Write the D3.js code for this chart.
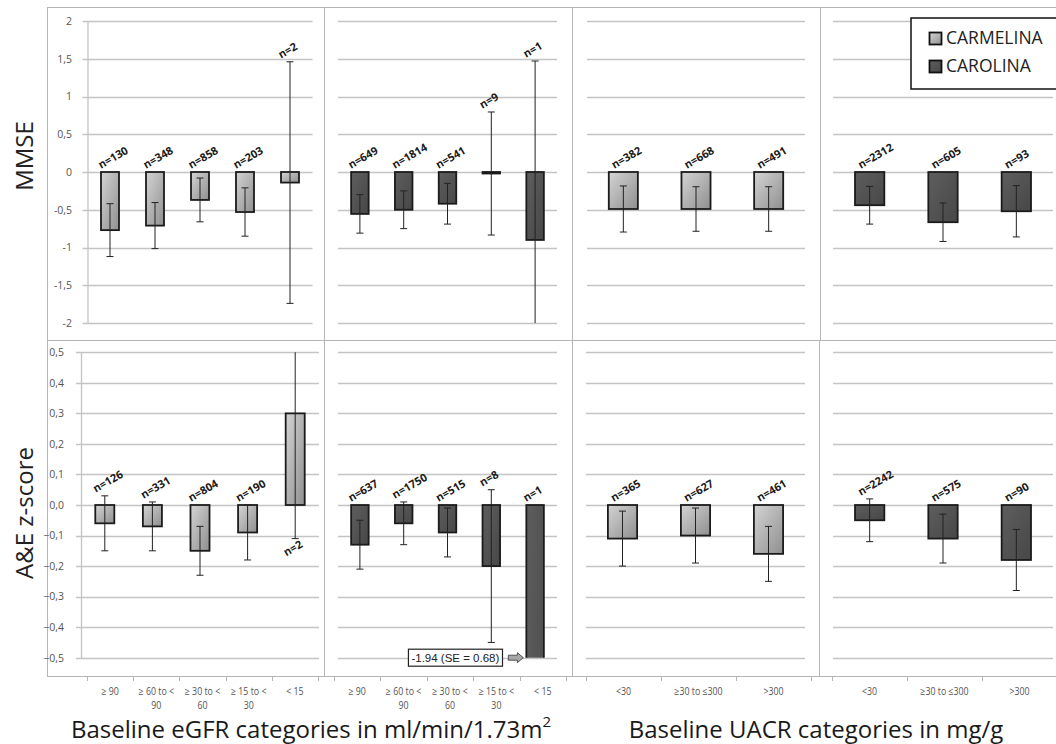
<!DOCTYPE html>
<html><head><meta charset="utf-8">
<script src="https://cdn.jsdelivr.net/npm/d3@7"></script>
<style>body{margin:0;background:#fff} svg{display:block;font-family:"Open Sans",sans-serif}</style>
</head><body><svg id="c" width="1056" height="744"></svg>
<script>
// ---------- DATA ----------
const egfrCategories = [["≥ 90"],["≥ 60 to <","90"],["≥ 30 to <","60"],["≥ 15 to <","30"],["< 15"]];
const uacrCategories = [["<30"],["≥30 to ≤300"],[">300"]];
const mmseTicks = [2,1.5,1,0.5,0,-0.5,-1,-1.5,-2];
const aeTicks = [0.5,0.4,0.3,0.2,0.1,0,-0.1,-0.2,-0.3,-0.4,-0.5];
const seriesNames = ["CARMELINA","CAROLINA"];

const mmseCarmelinaEgfrMean = [-0.77,-0.71,-0.37,-0.53,-0.14];
const mmseCarmelinaEgfrSE   = [0.35,0.305,0.29,0.32,1.60];
const mmseCarmelinaEgfrN    = [130,348,858,203,2];
const mmseCarolinaEgfrMean  = [-0.555,-0.50,-0.42,-0.02,-0.90];
const mmseCarolinaEgfrSE    = [0.255,0.25,0.27,0.815,2.37];
const mmseCarolinaEgfrN     = [649,1814,541,9,1];
const mmseCarmelinaUacrMean = [-0.49,-0.49,-0.49];
const mmseCarmelinaUacrSE   = [0.305,0.295,0.295];
const mmseCarmelinaUacrN    = [382,668,491];
const mmseCarolinaUacrMean  = [-0.44,-0.665,-0.52];
const mmseCarolinaUacrSE    = [0.25,0.255,0.34];
const mmseCarolinaUacrN     = [2312,605,93];

const aeCarmelinaEgfrMean = [-0.06,-0.07,-0.15,-0.09,0.30];
const aeCarmelinaEgfrSE   = [0.09,0.08,0.08,0.09,0.41];
const aeCarmelinaEgfrN    = [126,331,804,190,2];
const aeCarolinaEgfrMean  = [-0.13,-0.06,-0.09,-0.20,-1.94];
const aeCarolinaEgfrSE    = [0.08,0.07,0.08,0.25,0.68];
const aeCarolinaEgfrN     = [637,1750,515,8,1];
const aeCarmelinaUacrMean = [-0.11,-0.10,-0.16];
const aeCarmelinaUacrSE   = [0.09,0.09,0.09];
const aeCarmelinaUacrN    = [365,627,461];
const aeCarolinaUacrMean  = [-0.05,-0.11,-0.18];
const aeCarolinaUacrSE    = [0.07,0.08,0.10];
const aeCarolinaUacrN     = [2242,575,90];

// ---------- LAYOUT ----------
const svg = d3.select("#c");
const defs = svg.append("defs");
function grad(id, c0, c1){
  const g = defs.append("linearGradient").attr("id", id).attr("x1",0).attr("y1",0).attr("x2",1).attr("y2",1);
  g.append("stop").attr("offset","0%").attr("stop-color",c0);
  g.append("stop").attr("offset","100%").attr("stop-color",c1);
}
grad("gLight", "#d4d4d4", "#8f8f8f");
grad("gDark", "#5e5e5e", "#474747");
const fills = ["url(#gLight)","url(#gDark)"];

const borderColor = "#b5b5b5", gridColor = "#c4c4c4";

const rows = [
  {ticks: mmseTicks, yRange: [323, 21], labelX: 72, title: "MMSE", titleY: 156,
   fmt: d => String(d).replace(".", ",")},
  {ticks: aeTicks, yRange: [657.7, 352.3], labelX: 64, title: "A&E z-score", titleY: 513,
   fmt: d => d3.format(".1f")(d).replace(".", ",")}
];

const panels = [
  {row:0, series:0, cats: egfrCategories, x:[87.5,312.5], mean: mmseCarmelinaEgfrMean, se: mmseCarmelinaEgfrSE, n: mmseCarmelinaEgfrN, axis:true},
  {row:0, series:1, cats: egfrCategories, x:[338,557], mean: mmseCarolinaEgfrMean, se: mmseCarolinaEgfrSE, n: mmseCarolinaEgfrN},
  {row:0, series:0, cats: uacrCategories, x:[587,805], mean: mmseCarmelinaUacrMean, se: mmseCarmelinaUacrSE, n: mmseCarmelinaUacrN},
  {row:0, series:1, cats: uacrCategories, x:[833,1053], mean: mmseCarolinaUacrMean, se: mmseCarolinaUacrSE, n: mmseCarolinaUacrN},
  {row:1, series:0, cats: egfrCategories, x:[81,319], mean: aeCarmelinaEgfrMean, se: aeCarmelinaEgfrSE, n: aeCarmelinaEgfrN, axis:true},
  {row:1, series:1, cats: egfrCategories, x:[338,557], mean: aeCarolinaEgfrMean, se: aeCarolinaEgfrSE, n: aeCarolinaEgfrN},
  {row:1, series:0, cats: uacrCategories, x:[586,805], mean: aeCarmelinaUacrMean, se: aeCarmelinaUacrSE, n: aeCarmelinaUacrN},
  {row:1, series:1, cats: uacrCategories, x:[833,1053], mean: aeCarolinaUacrMean, se: aeCarolinaUacrSE, n: aeCarolinaUacrN}
];

// ---------- FRAME ----------
const frame = svg.append("g").attr("stroke", borderColor).attr("stroke-width", 1).attr("shape-rendering","crispEdges");
[[47,7,1056,7],[47,340,1056,340],[47,676,1056,676],[47,7,47,676],
 [324,7,324,676],[572,7,572,676],[820,7,820,340],[819,340,819,676]].forEach(l=>{
  frame.append("line").attr("x1",l[0]).attr("y1",l[1]).attr("x2",l[2]).attr("y2",l[3]);
});

// ---------- PANELS ----------
panels.forEach((p, pi) => {
  const r = rows[p.row];
  const y = d3.scaleLinear().domain([d3.min(r.ticks), d3.max(r.ticks)]).range(r.yRange);
  const x = d3.scaleBand().domain(p.cats.map((c,i)=>i)).range(p.x).padding(0);
  const g = svg.append("g");

  g.append("g").selectAll("line").data(r.ticks).join("line")
    .attr("x1", p.axis ? p.x[0]-5 : p.x[0]).attr("x2", p.x[1])
    .attr("y1", d=>Math.round(y(d))+0.5).attr("y2", d=>Math.round(y(d))+0.5)
    .attr("stroke", gridColor).attr("stroke-width", 1.3);

  if (p.axis) {
    const ax = d3.axisLeft(y).tickValues(r.ticks).tickFormat(r.fmt).tickSize(0).tickPadding(p.x[0]-r.labelX);
    const ag = g.append("g").attr("transform", `translate(${p.x[0]},0)`).call(ax);
    ag.select(".domain").attr("stroke", gridColor).attr("stroke-width",1.3);
    ag.selectAll("text").attr("font-size", 10.5).attr("fill", "#555").attr("font-family","'Open Sans',sans-serif");
    svg.append("text").attr("transform", `translate(33,${r.titleY}) rotate(-90)`)
      .attr("text-anchor","middle").attr("font-size", 24).attr("fill","#222").text(r.title);
  }

  const clipId = "clip"+pi;
  defs.append("clipPath").attr("id", clipId).append("rect")
    .attr("x", p.x[0]).attr("width", p.x[1]-p.x[0])
    .attr("y", r.yRange[1]).attr("height", r.yRange[0]-r.yRange[1]);
  const cg = g.append("g").attr("clip-path", `url(#${clipId})`);

  const bw = x.bandwidth()*0.4;
  const data = p.mean.map((m,i)=>({i, m, se:p.se[i], n:p.n[i]}));
  const [dmin, dmax] = y.domain();

  cg.selectAll("rect.bar").data(data).join("rect").attr("class","bar")
    .attr("x", d=>x(d.i)+x.bandwidth()/2-bw/2).attr("width", bw)
    .attr("y", d=>y(Math.max(0,d.m))).attr("height", d=>Math.abs(y(d.m)-y(0)))
    .attr("fill", fills[p.series]).attr("stroke","#1b1b1b").attr("stroke-width",1.8);

  const eg = cg.append("g").attr("stroke","#222").attr("stroke-width",1);
  data.forEach(d=>{
    const cx = x(d.i)+x.bandwidth()/2;
    const y1 = y(d.m+d.se), y2 = y(d.m-d.se);
    eg.append("line").attr("x1",cx).attr("x2",cx).attr("y1",y1).attr("y2",y2);
    eg.append("line").attr("x1",cx-3.5).attr("x2",cx+3.5).attr("y1",y1).attr("y2",y1);
    eg.append("line").attr("x1",cx-3.5).attr("x2",cx+3.5).attr("y1",y2).attr("y2",y2);
  });

  data.forEach(d=>{
    const cx = x(d.i)+x.bandwidth()/2;
    const up = d.m + d.se;
    let ly;
    if (up > dmax) ly = y(d.m - d.se) + 18;
    else ly = y(Math.max(0, up)) - 3;
    g.append("text").attr("transform", `translate(${cx-9},${ly}) rotate(-30)`)
      .attr("font-size", 11).attr("font-weight", "bold").attr("fill","#1a1a1a")
      .text("n=" + d.n);
  });

  data.filter(d=>d.m < dmin).forEach(d=>{
    const left = x(d.i)+x.bandwidth()/2-bw/2;
    const ty = y(dmin);
    const tx = left - 3;
    g.append("polygon").attr("points", [[tx,ty],[tx-6,ty-5],[tx-6,ty-2.5],[tx-15,ty-2.5],[tx-15,ty+2.5],[tx-6,ty+2.5],[tx-6,ty+5]].map(q=>q.join(",")).join(" "))
      .attr("fill","#a8a8a8").attr("stroke","#333").attr("stroke-width",0.8);
    const t = g.append("text").attr("x", left-27).attr("y", ty+4).attr("text-anchor","end")
      .attr("font-family","'Liberation Sans',Arial,sans-serif").attr("font-size",11.5).attr("fill","#222")
      .text(`${d.m.toFixed(2)} (SE = ${d.se.toFixed(2)})`);
    const bb = t.node().getBBox();
    g.insert("rect","text").attr("x", bb.x-3).attr("y", ty-8.5).attr("width", bb.width+6).attr("height",17)
      .attr("fill","#fff").attr("stroke","#222").attr("stroke-width",1.2);
    t.raise();
  });
});

// ---------- CATEGORY AXIS STRIP ----------
const stripAxes = [
  {cats: egfrCategories, x:[87,318]},
  {cats: egfrCategories, x:[334,566]},
  {cats: uacrCategories, x:[586,811]},
  {cats: uacrCategories, x:[832,1057]}
];
stripAxes.forEach(a=>{
  const x = d3.scaleBand().domain(a.cats.map((c,i)=>i)).range(a.x);
  const g = svg.append("g");
  const bounds = a.cats.map((c,i)=>x(i)).concat([a.x[1]]);
  g.selectAll("line").data(bounds).join("line")
    .attr("x1",d=>Math.round(d)+0.5).attr("x2",d=>Math.round(d)+0.5).attr("y1",676).attr("y2",681)
    .attr("stroke", borderColor);
  a.cats.forEach((lines,i)=>{
    lines.forEach((ln,k)=>{
      g.append("text").attr("transform", `translate(${x(i)+x.bandwidth()/2},${695 + k*14}) scale(0.84,1)`)
        .attr("text-anchor","middle").attr("font-size",10.5).attr("fill","#555").text(ln);
    });
  });
});

// x titles
const t1 = svg.append("text").attr("x", 311).attr("y", 738).attr("text-anchor","middle")
  .attr("font-size", 24).attr("fill","#1a1a1a");
t1.append("tspan").text("Baseline eGFR categories in ml/min/1.73m");
t1.append("tspan").attr("font-size", 15).attr("dy", -11).text("2");
svg.append("text").attr("x", 816).attr("y", 738).attr("text-anchor","middle")
  .attr("font-size", 24).attr("fill","#1a1a1a").text("Baseline UACR categories in mg/g");

// ---------- LEGEND ----------
const lg = svg.append("g");
lg.append("rect").attr("x", 911).attr("y", 18).attr("width", 160).attr("height", 71)
  .attr("fill","#fff").attr("stroke","#111").attr("stroke-width",1.5);
seriesNames.forEach((s,i)=>{
  lg.append("rect").attr("x", 929.5).attr("y", 32.5 + i*28).attr("width", 12).attr("height", 12)
    .attr("fill", fills[i]).attr("stroke","#111").attr("stroke-width",1.8);
  lg.append("text").attr("x", 946).attr("y", 44 + i*28).attr("font-size", 17.5).attr("fill","#222").text(s);
});
</script></body></html>
